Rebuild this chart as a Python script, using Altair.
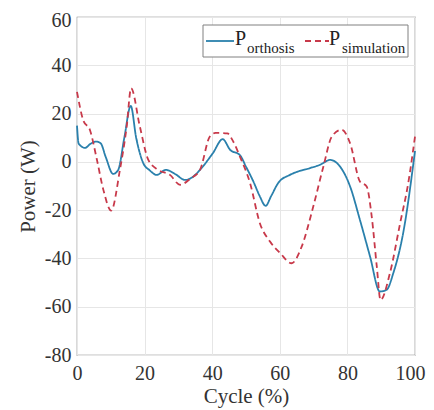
import altair as alt
import pandas as pd

# Orthosis power (solid)
orth_x = [0, 0.5, 2.4, 4, 5.7, 7, 8.5, 10.7, 12.2, 14, 15.9, 17.5, 19.6, 21.5, 23.6, 26.3, 29, 32, 34, 36.4,
          40.2, 43.1, 45.3, 48.2, 50, 52.2, 54, 55.8, 57.5, 59.6, 63, 66, 68.9, 71.9, 74.9, 77.8, 80.8, 83.7,
          86.7, 89.6, 91.6, 93.6, 96.5, 100]
orth_y = [15, 7.5, 5.8, 7.5, 8.4, 7.7, 2, -5, -3.3, 10, 23.2, 10, -0.5, -3.5, -5.4, -3.3, -5, -7.5, -6.5, -3.3,
          3.6, 9.4, 5, 2.8, -2, -8.2, -14, -18.2, -14, -8.6, -5.4, -3.7, -2.6, -1.2, 0.8, -1.9, -10.2, -24,
          -39.2, -53.7, -53, -46, -29.5, 4.5]

# Simulation power (dashed)
sim_x = [0, 1.9, 3.8, 5.8, 7.8, 10.1, 12.7, 14.7, 16, 18.6, 21.1, 24, 27.5, 30.5, 33.5, 36.4, 39.3, 41, 44.5,
         46, 48.2, 51.2, 54.1, 57.1, 60.1, 63.5, 66.5, 69.9, 72.9, 75.4, 78.3, 80.8, 83.7, 85.7, 87.2, 88.7,
         89.8, 92.6, 95.6, 98, 100]
sim_y = [29, 17, 13.3, 1.5, -11.6, -20.2, -3.3, 14.6, 30.5, 14.6, 0.8, -3.3, -5.4, -9.5, -7, -3.3, 10.5, 12,
         11.8, 9, 2.2, -8.8, -25.4, -33, -37.8, -42, -35, -18.5, -1.9, 10.5, 13.3, 7.7, -8.1, -10.2, -22.7,
         -43.4, -57.2, -46, -25.4, -8.8, 10.5]

series_names = ["orthosis", "simulation"]
series_colors = ["#2A80AC", "#C8394A"]
x_ticks = [0, 20, 40, 60, 80, 100]
y_ticks = [-80, -60, -40, -20, 0, 20, 40, 60]

df = pd.concat([
    pd.DataFrame({"x": orth_x, "y": orth_y, "s": "orthosis", "o": range(len(orth_x))}),
    pd.DataFrame({"x": sim_x, "y": sim_y, "s": "simulation", "o": range(len(sim_x))}),
])

FONT = "Liberation Serif, Times New Roman, DejaVu Serif, serif"

lines = alt.Chart(df).mark_line(interpolate="monotone", strokeWidth=1.8).encode(
    x=alt.X("x:Q", scale=alt.Scale(domain=[0, 100], nice=False),
            axis=alt.Axis(values=x_ticks, title="Cycle (%)", labelExpr="'' + datum.value",
                          labelPadding=8, labelFlush=False, titlePadding=2,
                          labelAlign={"condition": {"test": "datum.value == 100", "value": "right"},
                                      "value": "center"},
                          labelOffset={"condition": {"test": "datum.value == 100", "value": 10},
                                       "value": 0})),
    y=alt.Y("y:Q", scale=alt.Scale(domain=[-80, 60], nice=False),
            axis=alt.Axis(values=y_ticks, title="Power (W)", labelExpr="'' + datum.value",
                          labelPadding=6, labelFlush=False, titlePadding=6,
                          labelOffset={"condition": {"test": "datum.value == 60", "value": 3},
                                       "value": 0})),
    color=alt.Color("s:N", scale=alt.Scale(domain=series_names, range=series_colors), legend=None),
    strokeDash=alt.StrokeDash("s:N", scale=alt.Scale(domain=series_names, range=[[1, 0], [6, 4]]),
                              legend=None),
    order="o:Q",
)

one = pd.DataFrame({"k": [0]})

box = alt.Chart(one).mark_rect(fill="white", stroke="#808080", strokeWidth=1).encode(
    x=alt.value(126), x2=alt.value(331), y=alt.value(8), y2=alt.value(40))

samp1 = alt.Chart(one).mark_rule(color=series_colors[0], strokeWidth=1.8).encode(
    x=alt.value(129), x2=alt.value(157), y=alt.value(24))
samp2 = alt.Chart(one).mark_rule(color=series_colors[1], strokeWidth=1.8, strokeDash=[6, 4]).encode(
    x=alt.value(228), x2=alt.value(252), y=alt.value(24))

def txt(t, x, y, size):
    return alt.Chart(pd.DataFrame({"t": [t]})).mark_text(
        font=FONT, fontSize=size, align="left", baseline="alphabetic", color="#222222").encode(
        x=alt.value(x), y=alt.value(y), text="t:N")

legend = [box, samp1, samp2,
          txt("P", 158, 28, 20), txt("orthosis", 170, 36, 15),
          txt("P", 252, 28, 20), txt("simulation", 265, 36, 15)]

chart = alt.layer(lines, *legend).properties(
    width=338, height=338,
    autosize=alt.AutoSizeParams(type="none"),
    padding={"left": 69, "top": 9, "right": 11, "bottom": 54},
).configure_view(stroke="#808080", strokeWidth=1.2).configure_axis(
    labelFont=FONT, titleFont=FONT, labelFontSize=20, titleFontSize=21,
    labelColor="#333333", titleColor="#333333", titleFontWeight="normal",
    gridColor="#E6E6E6", domain=False, ticks=False,
)

chart.save("out.html", embed_options={"renderer": "svg", "actions": False})
